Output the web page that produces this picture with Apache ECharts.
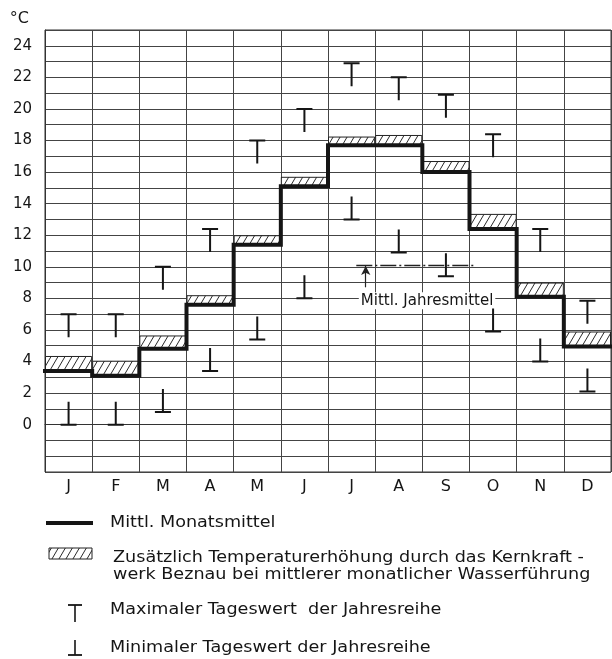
<!DOCTYPE html>
<html><head><meta charset="utf-8">
<script src="https://cdn.jsdelivr.net/npm/echarts@6/dist/echarts.min.js"></script>
<style>html,body{margin:0;padding:0;background:#fff}#c{width:612px;height:659px}</style>
</head><body><div id="c"></div>
<script>
// ---- data ----
const months = ['J','F','M','A','M','J','J','A','S','O','N','D'];
const monthlyMean = [3.4, 3.1, 4.8, 7.6, 11.4, 15.1, 17.7, 17.7, 16.0, 12.4, 8.1, 4.95];
const plantIncrease = [0.95, 0.95, 0.85, 0.6, 0.6, 0.6, 0.55, 0.65, 0.7, 0.95, 0.9, 0.95];
const dailyMax = [7.0, 7.0, 10.0, 12.4, 18.0, 20.0, 22.9, 22.0, 20.9, 18.4, 12.4, 7.85];
const dailyMin = [0.0, 0.0, 0.8, 3.4, 5.4, 8.0, 13.0, 10.9, 9.4, 5.9, 4.0, 2.1];
const annualMean = 10.1;
const yTickLabels = [0, 2, 4, 6, 8, 10, 12, 14, 16, 18, 20, 22, 24];

const FONT = 'DejaVu Sans';
const INK = '#151515';
const LEGEND_FONT = '16px "DejaVu Sans"';
const LEGEND_SCALE = 1.1;

function hatch() {
  const c = document.createElement('canvas');
  c.width = 7; c.height = 12;
  const g = c.getContext('2d');
  g.fillStyle = '#fff'; g.fillRect(0, 0, 7, 12);
  g.strokeStyle = '#2a2a2a'; g.lineWidth = 1;
  for (const dx of [-7, 0, 7]) {
    g.beginPath(); g.moveTo(dx, 12); g.lineTo(dx + 7, 0); g.stroke();
  }
  return { image: c, repeat: 'repeat' };
}
const hatchFill = hatch();

const stepData = monthlyMean.map((v, i) => [i, v]).concat([[months.length, monthlyMean[monthlyMean.length - 1]]]);

const T_PATH = 'path://M0,0 H16 V2 H9 V24 H7 V2 H0 Z';
const B_PATH = 'path://M7,0 H9 V22 H16 V24 H0 V22 H7 Z';

function legendText(x, y, text, extra) {
  return Object.assign({
    type: 'text', x: x, y: y, scaleX: LEGEND_SCALE, originX: 0, originY: 0,
    style: Object.assign({ text: text, font: LEGEND_FONT, fill: INK, verticalAlign: 'middle' }, extra || {})
  });
}

const chart = echarts.init(document.getElementById('c'), null, { renderer: 'canvas' });
chart.setOption({
  animation: false,
  backgroundColor: '#fff',
  grid: { left: 45, right: 1, top: 30, bottom: 187, show: true, borderColor: '#333', borderWidth: 1 },
  xAxis: [{
    type: 'category', data: months, boundaryGap: true,
    axisLine: { show: true, lineStyle: { color: '#333', width: 1 } },
    axisTick: { show: false },
    axisLabel: { interval: 0, margin: 7, fontFamily: FONT, fontSize: 16, color: INK },
    splitLine: { show: true, interval: 0, lineStyle: { color: '#444', width: 1 } }
  }, {
    type: 'value', min: 0, max: months.length, show: false
  }],
  yAxis: {
    type: 'value', min: -3, max: 25, interval: 1,
    name: '°C', nameLocation: 'end', nameGap: 3,
    nameTextStyle: { fontFamily: FONT, fontSize: 16, color: INK, align: 'right', verticalAlign: 'bottom', padding: [0, 16, 0, 0] },
    axisLine: { show: true, lineStyle: { color: '#333', width: 1 } },
    axisTick: { show: false },
    axisLabel: {
      margin: 13, fontFamily: FONT, fontSize: 15, color: INK,
      formatter: v => yTickLabels.indexOf(v) >= 0 ? String(v) : ''
    },
    splitLine: { show: true, lineStyle: { color: '#444', width: 1 } }
  },
  series: [
    {
      name: 'base', type: 'bar', stack: 'h', data: monthlyMean,
      barWidth: '100%', itemStyle: { color: 'rgba(0,0,0,0)' }, silent: true
    },
    {
      name: 'Zusätzlich Temperaturerhöhung', type: 'bar', stack: 'h', data: plantIncrease,
      barWidth: '100%',
      itemStyle: { color: hatchFill, borderColor: '#222', borderWidth: 1 }
    },
    {
      name: 'Mittl. Monatsmittel', type: 'line', xAxisIndex: 1, step: 'end',
      data: stepData, showSymbol: false, symbol: 'none',
      lineStyle: { color: INK, width: 4, cap: 'square', join: 'miter' },
      markLine: {
        silent: true, animation: false,
        label: { show: false },
        data: [
          [{ coord: [6.6, annualMean], symbol: 'none', lineStyle: { type: [16, 3, 2, 3], color: '#222', width: 1.3 } },
           { coord: [9.1, annualMean], symbol: 'none' }],
          [{ coord: [6.8, annualMean - 0.05], symbol: 'arrow', symbolSize: [7, 9], lineStyle: { type: 'solid', color: '#222', width: 1.2 } },
           { coord: [6.8, annualMean - 1.4], symbol: 'none' }]
        ]
      },
      markPoint: {
        silent: true,
        data: [{
          coord: [8.1, annualMean - 2.25], symbol: 'rect', symbolSize: 1,
          itemStyle: { color: 'rgba(0,0,0,0)' },
          label: {
            show: true, position: 'inside', formatter: 'Mittl. Jahresmittel',
            fontFamily: FONT, fontSize: 15, color: INK, backgroundColor: '#fff', padding: [1, 2]
          }
        }]
      },
      z: 5
    },
    {
      name: 'Maximaler Tageswert', type: 'scatter', data: dailyMax,
      symbol: T_PATH, symbolSize: [16, 24], symbolOffset: [0, 11],
      itemStyle: { color: INK, opacity: 1 }, z: 6
    },
    {
      name: 'Minimaler Tageswert', type: 'scatter', data: dailyMin,
      symbol: B_PATH, symbolSize: [16, 24], symbolOffset: [0, -11],
      itemStyle: { color: INK, opacity: 1 }, z: 6
    }
  ],
  graphic: [
    { type: 'line', shape: { x1: 46, y1: 523, x2: 93, y2: 523 }, style: { stroke: INK, lineWidth: 4 } },
    legendText(110, 523, 'Mittl. Monatsmittel'),
    { type: 'rect', shape: { x: 49, y: 548, width: 43, height: 11 }, style: { fill: hatchFill, stroke: '#222', lineWidth: 1 } },
    legendText(113, 566, 'Zusätzlich Temperaturerhöhung durch das Kernkraft -\nwerk Beznau bei mittlerer monatlicher Wasserführung', { lineHeight: 17 }),
    { type: 'line', shape: { x1: 68, y1: 605, x2: 82, y2: 605 }, style: { stroke: INK, lineWidth: 1.8 } },
    { type: 'line', shape: { x1: 75, y1: 605, x2: 75, y2: 622 }, style: { stroke: INK, lineWidth: 1.6 } },
    legendText(110, 610, 'Maximaler Tageswert  der Jahresreihe'),
    { type: 'line', shape: { x1: 75, y1: 640, x2: 75, y2: 655 }, style: { stroke: INK, lineWidth: 1.6 } },
    { type: 'line', shape: { x1: 68, y1: 655, x2: 82, y2: 655 }, style: { stroke: INK, lineWidth: 1.8 } },
    legendText(110, 648, 'Minimaler Tageswert der Jahresreihe')
  ]
});
</script></body></html>
